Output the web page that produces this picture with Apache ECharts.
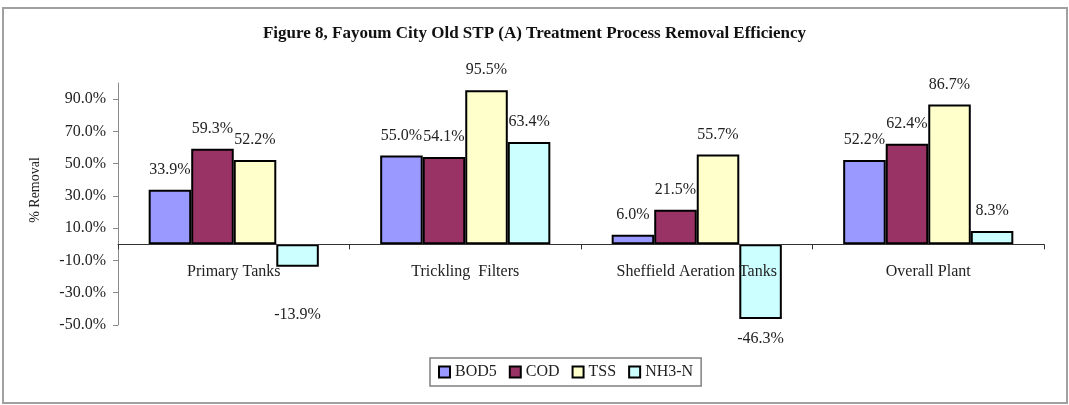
<!DOCTYPE html>
<html>
<head>
<meta charset="utf-8">
<script src="https://cdn.jsdelivr.net/npm/echarts@6/dist/echarts.min.js"></script>
<style>
  html, body { margin: 0; padding: 0; background: #fff; }
  #chart { width: 1069px; height: 405px; }
</style>
</head>
<body>
<div id="chart"></div>
<script>
// Treatment stages along the category axis
const stages = ['Primary Tanks', 'Trickling  Filters', 'Sheffield Aeration Tanks', 'Overall Plant'];

// Removal efficiency (%) per parameter and stage
const bod5 = [33.9, 55.0, 6.0, 52.2];
const cod  = [59.3, 54.1, 21.5, 62.4];
const tss  = [52.2, 95.5, 55.7, 86.7];
const nh3n = [-13.9, 63.4, -46.3, 8.3];

// Value axis tick positions
const yTicks = [-50, -30, -10, 10, 30, 50, 70, 90];

const seriesDefs = [
  { name: 'BOD5',  values: bod5, color: '#9999FF' },
  { name: 'COD',   values: cod,  color: '#993366' },
  { name: 'TSS',   values: tss,  color: '#FFFFCC' },
  { name: 'NH3-N', values: nh3n, color: '#CCFFFF' }
];

// extra spacing for a few value labels (series name -> category index -> distance)
const labelDistance = { 'NH3-N': { 0: 40 } };

const serif = 'Liberation Serif, Times New Roman, serif';
const fmt = v => v.toFixed(1) + '%';

const chart = echarts.init(document.getElementById('chart'), null, { renderer: 'canvas' });

const series = seriesDefs.map(s => ({
  name: s.name,
  type: 'bar',
  barGap: '0%',
  barCategoryGap: '26.5%',
  itemStyle: { color: s.color, borderColor: '#000', borderWidth: 2 },
  label: {
    show: true,
    position: 'top',
    distance: 12,
    fontFamily: serif,
    fontSize: 16,
    color: '#222',
    formatter: p => fmt(p.value)
  },
  data: s.values.map((v, i) => {
    const item = { value: v };
    if (v < 0) {
      const d = (labelDistance[s.name] && labelDistance[s.name][i] !== undefined) ? labelDistance[s.name][i] : 12;
      item.label = { position: 'bottom', distance: d };
    }
    return item;
  })
}));

chart.setOption({
  animation: false,
  backgroundColor: '#fff',
  title: {
    text: 'Figure 8, Fayoum City Old STP (A) Treatment Process Removal Efficiency',
    left: 'center',
    top: 20,
    textStyle: { fontFamily: serif, fontWeight: 'bold', fontSize: 17, color: '#111' }
  },
  graphic: [
    {
      type: 'rect',
      shape: { x: 3, y: 8, width: 1064, height: 395 },
      style: { fill: 'none', stroke: '#a0a0a0', lineWidth: 2 },
      silent: true
    },
    {
      type: 'text',
      x: 35, y: 190,
      rotation: Math.PI / 2,
      style: {
        text: '% Removal',
        fontFamily: serif,
        fontSize: 14,
        fill: '#222',
        align: 'center',
        verticalAlign: 'middle'
      },
      silent: true
    }
  ],
  legend: {
    data: seriesDefs.map(s => s.name),
    icon: 'rect',
    left: 430,
    top: 358,
    padding: [6, 8],
    itemGap: 12,
    itemWidth: 11,
    itemHeight: 11,
    borderColor: '#808080',
    borderWidth: 1.5,
    itemStyle: { borderColor: '#000', borderWidth: 2 },
    textStyle: { fontFamily: serif, fontSize: 16, color: '#222' }
  },
  grid: { left: 118, right: 25, top: 83, bottom: 80, containLabel: false },
  xAxis: {
    type: 'category',
    data: stages,
    axisLine: { onZero: true, lineStyle: { color: '#333', width: 1 } },
    axisTick: { show: true, length: 5, lineStyle: { color: '#333' } },
    // labels sit just under the zero line, above the plot's lower edge
    axisLabel: { fontFamily: serif, fontSize: 16, color: '#222', margin: -61, interval: 0 },
    z: 3
  },
  yAxis: {
    type: 'value',
    min: -50,
    max: 100,
    axisLine: { show: true, lineStyle: { color: '#8a8a8a', width: 1 } },
    axisTick: { show: true, length: 5, customValues: yTicks, lineStyle: { color: '#8a8a8a' } },
    axisLabel: {
      customValues: yTicks,
      fontFamily: serif,
      fontSize: 16,
      color: '#222',
      margin: 12,
      formatter: v => fmt(v)
    },
    splitLine: { show: false }
  },
  series: series
});
</script>
</body>
</html>
